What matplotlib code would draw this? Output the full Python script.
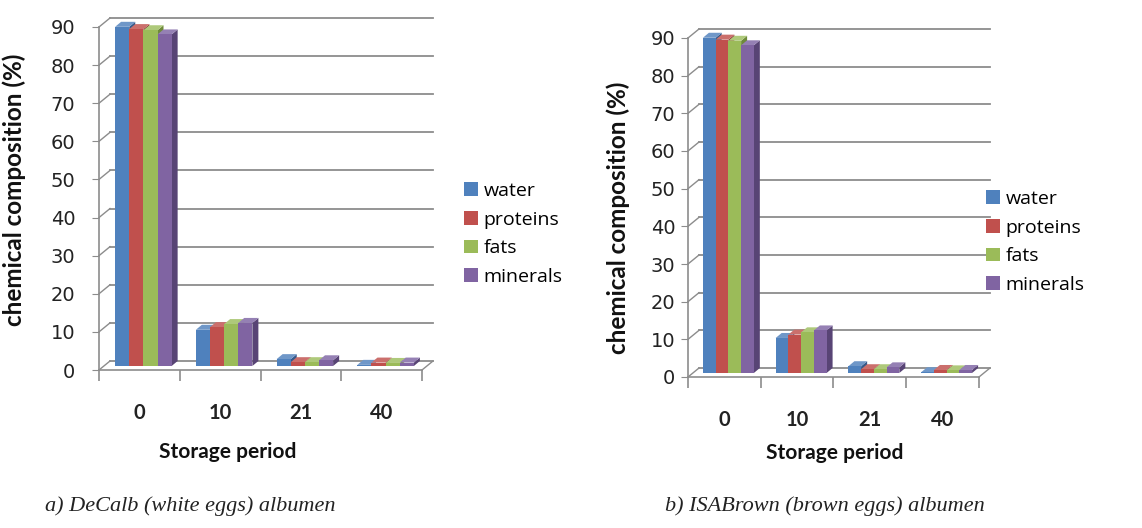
import numpy as np
import matplotlib.pyplot as plt
from matplotlib.patches import Polygon, Patch

# ---- data ----
periods = ["0", "10", "21", "40"]
components = ["water", "proteins", "fats", "minerals"]

decalb_water    = [89.0, 9.5, 1.8, 0.3]
decalb_proteins = [88.4, 10.2, 1.0, 0.9]
decalb_fats     = [88.1, 11.0, 1.0, 0.8]
decalb_minerals = [87.0, 11.3, 1.5, 0.9]

isa_water    = [89.0, 9.3, 1.8, 0.2]
isa_proteins = [88.5, 10.2, 1.0, 0.8]
isa_fats     = [88.2, 10.8, 1.0, 0.7]
isa_minerals = [87.0, 11.3, 1.5, 0.8]

yticks = list(range(0, 91, 10))

front = ["#4F81BD", "#C0504D", "#9BBB59", "#8064A2"]
side  = ["#35598A", "#8A3533", "#6E8A3A", "#584475"]
top   = ["#6F97C8", "#CB6F6C", "#AEC97A", "#9580B4"]
grid_c = "#8C8C8C"

W, H = 1142, 528
fig = plt.figure(figsize=(W / 100, H / 100), dpi=100)


def draw_chart(series, x0, x1, y0, y90, ytick_pad, ylabel_xy, legend_xy, xlabel_xy):
    ax = fig.add_axes([x0 / W, (H - y0) / H, (x1 - x0) / W, (y0 - y90) / H])
    ax.set_xlim(-0.5, 3.5)
    ax.set_ylim(0, 90)
    pxx = (x1 - x0) / 4.0      # pixels per category
    pxy = (y0 - y90) / 90.0    # pixels per % unit

    # back wall offset and bar depth (in pixels -> data units)
    bx, by = 11 / pxx, 9 / pxy
    mx, my = 4 / pxx, 4 / pxy
    dx, dy = 6 / pxx, 5 / pxy

    # back wall gridlines + side wall slants
    for v in yticks:
        ax.plot([-0.5 + bx, 3.5 + bx], [v + by, v + by], color=grid_c, lw=1.3,
                clip_on=False, zorder=0.5)
        ax.plot([-0.5, -0.5 + bx], [v, v + by], color=grid_c, lw=1.0,
                clip_on=False, zorder=0.5)
    # floor edge
    ax.plot([3.5, 3.5 + bx], [0, by], color=grid_c, lw=1.0, clip_on=False)

    # bars
    w = 0.175
    k = 1
    for g in range(len(periods)):
        start = g - 2 * w + mx
        for i, vals in enumerate(series):
            v = vals[g]
            xl = start + i * w
            ax.bar(xl, v, width=w, bottom=my, align="edge", color=front[i],
                   linewidth=0, zorder=k + 0.3)
            ax.add_patch(Polygon([(xl + w, my), (xl + w + dx, my + dy),
                                  (xl + w + dx, v + my + dy), (xl + w, v + my)],
                                 closed=True, fc=side[i], ec="none", zorder=k + 0.1,
                                 clip_on=False))
            ax.add_patch(Polygon([(xl, v + my), (xl + dx, v + my + dy),
                                  (xl + w + dx, v + my + dy), (xl + w, v + my)],
                                 closed=True, fc=top[i], ec="none", zorder=k + 0.2,
                                 clip_on=False))
            k += 1

    for s in ["top", "right"]:
        ax.spines[s].set_visible(False)
    for s in ["left", "bottom"]:
        ax.spines[s].set_color(grid_c)
        ax.spines[s].set_linewidth(1.2)

    ax.set_yticks(yticks)
    ax.set_yticklabels([str(t) for t in yticks], fontsize=14, color="#222222",
                       family="DejaVu Sans")
    ax.tick_params(axis="y", length=5, color=grid_c, pad=ytick_pad)

    ax.set_xticks(range(len(periods)))
    ax.set_xticklabels(periods, fontsize=14.5, fontweight="bold", color="#222222",
                       family="Lato")
    ax.tick_params(axis="x", which="major", length=0, pad=24)
    ax.set_xticks(np.arange(-0.5, 3.6, 1.0), minor=True)
    ax.tick_params(axis="x", which="minor", length=8, color=grid_c, width=1.2)

    ax.set_ylabel("chemical composition (%)", fontsize=17.5, fontweight="bold",
                  family="Lato", color="#111111")
    ax.yaxis.set_label_coords((ylabel_xy[0] - x0) / (x1 - x0),
                              (y0 - ylabel_xy[1]) / (y0 - y90))

    fig.text(xlabel_xy[0] / W, 1 - xlabel_xy[1] / H, "Storage period", ha="center",
             va="center", fontsize=15, fontweight="bold", family="Lato", color="#111111")

    handles = [Patch(facecolor=front[i], edgecolor="none") for i in range(4)]
    fig.legend(handles, components, loc="upper left",
               bbox_to_anchor=(legend_xy[0] / W, 1 - legend_xy[1] / H),
               frameon=False, handlelength=0.7, handleheight=0.7,
               handletextpad=0.3, labelspacing=0.55, borderpad=0, borderaxespad=0,
               prop={"family": "Open Sans", "size": 14})
    return ax


draw_chart([decalb_water, decalb_proteins, decalb_fats, decalb_minerals],
           99, 422, 370, 27, 12, (26, 190), (464, 182), (228, 452))
draw_chart([isa_water, isa_proteins, isa_fats, isa_minerals],
           688, 979, 377, 38, 4, (630, 218), (986, 190), (835, 453))

fig.text(190 / W, 1 - 506 / H, "a) DeCalb (white eggs) albumen", ha="center",
         va="center", fontsize=16, style="italic", family="Liberation Serif",
         color="#222222")
fig.text(825 / W, 1 - 506 / H, "b) ISABrown (brown eggs) albumen", ha="center",
         va="center", fontsize=16, style="italic", family="Liberation Serif",
         color="#222222")

fig.savefig("out.png", dpi=100)
